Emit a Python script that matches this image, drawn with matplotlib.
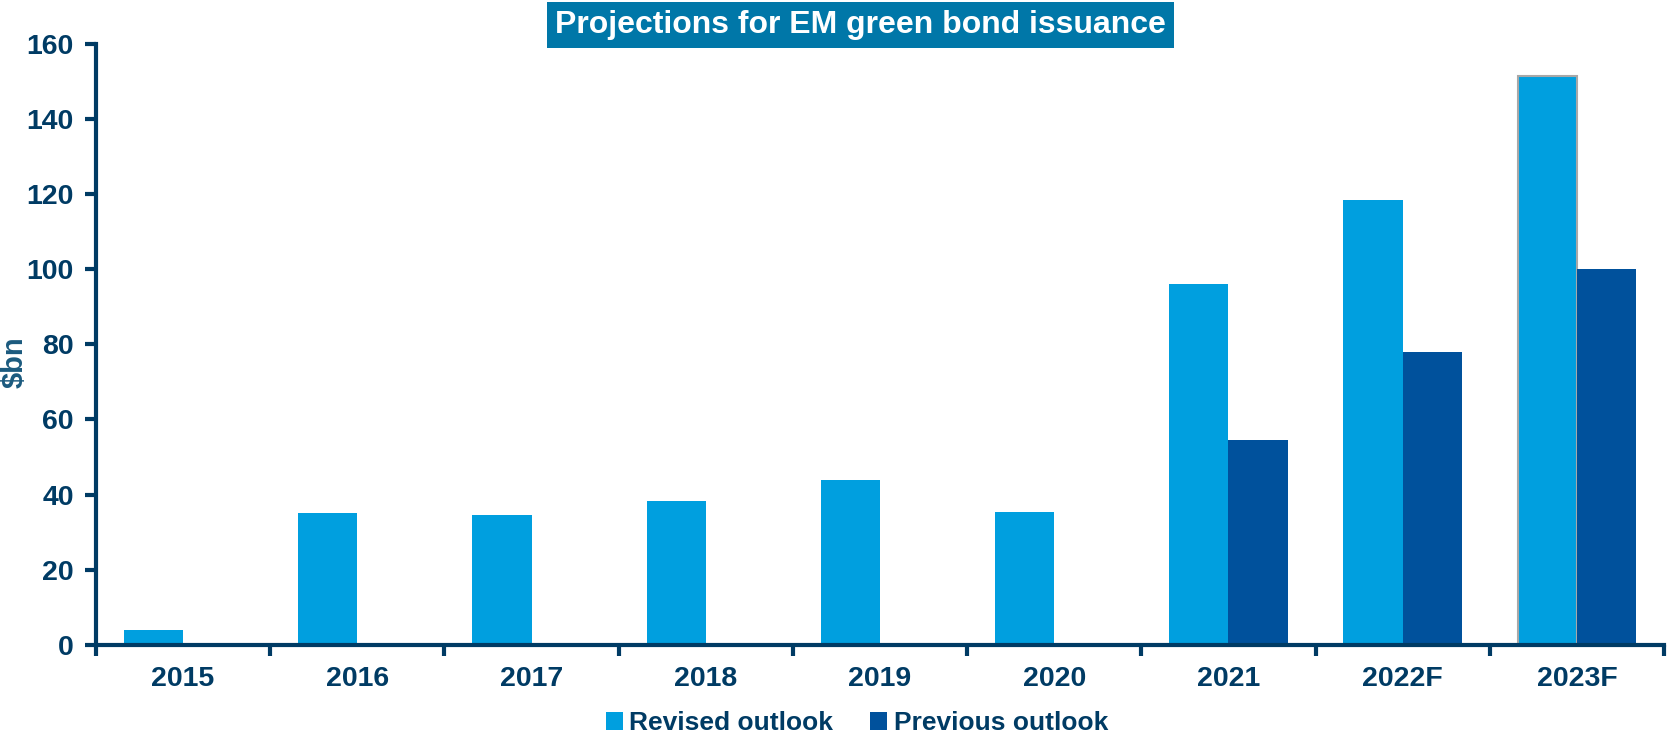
import matplotlib
matplotlib.use("Agg")
import matplotlib.pyplot as plt
import numpy as np

categories = ["2015", "2016", "2017", "2018", "2019", "2020", "2021", "2022F", "2023F"]
revised = [4, 35.2, 34.5, 38.2, 44, 35.5, 96, 118.3, 151.5]
previous = [0, 0, 0, 0, 0, 0, 54.5, 78, 100]
yticks = [0, 20, 40, 60, 80, 100, 120, 140, 160]

plt.rcParams['font.family'] = ['Liberation Sans', 'DejaVu Sans']
navy = '#003B64'
c_rev = '#009FDF'
c_prev = '#00519C'

fig = plt.figure(figsize=(16.69, 7.34), dpi=100)
ax = fig.add_axes([0.0575, 0.1213, 0.9395, 0.8193])

x = np.arange(len(categories))
w = 0.34
bars_r = ax.bar(x - w/2, revised, w, color=c_rev, label='Revised outlook', zorder=2)
bars_p = ax.bar(x + w/2, previous, w, color=c_prev, label='Previous outlook', zorder=2)
bars_r[-1].set_edgecolor('#A8A8A8')
bars_r[-1].set_linewidth(1.5)

ax.set_xlim(-0.5, len(categories) - 0.5)
ax.set_ylim(0, 160)
ax.set_yticks(yticks)
ax.set_yticklabels([str(v) for v in yticks], fontsize=20.5, fontweight='bold', color=navy)

ax.set_xticks(np.arange(-0.5, len(categories), 1.0))
ax.set_xticklabels([])
ax.set_xticks(x, minor=True)
ax.set_xticklabels(categories, minor=True, fontsize=20.5, fontweight='bold', color=navy)
ax.tick_params(axis='x', which='minor', length=0, pad=15)
ax.tick_params(axis='x', which='major', length=8, width=3, color=navy, direction='out')
ax.tick_params(axis='y', length=8, width=3, color=navy, direction='out', pad=8)

for s in ['top', 'right']:
    ax.spines[s].set_visible(False)
for s in ['left', 'bottom']:
    ax.spines[s].set_color(navy)
    ax.spines[s].set_linewidth(3)

ax.set_ylabel('$bn', fontsize=21, fontweight='bold', color='#1B5A7E')
ax.yaxis.set_label_coords(-0.043, 0.47)

fig.text(0.5155, 0.966, 'Projections for EM green bond issuance', ha='center', va='center',
         fontsize=23, fontweight='bold', color='white',
         bbox=dict(boxstyle='square,pad=0.25', facecolor='#0077A8', edgecolor='none'))

leg = fig.legend(loc='center', bbox_to_anchor=(0.5135, 0.0145), ncol=2, frameon=False,
                 fontsize=19, handlelength=0.65, handleheight=0.65, handletextpad=0.25,
                 columnspacing=1.4, borderpad=0)
for t in leg.get_texts():
    t.set_color(navy)
    t.set_fontweight('bold')

fig.savefig('out.png', dpi=100)
